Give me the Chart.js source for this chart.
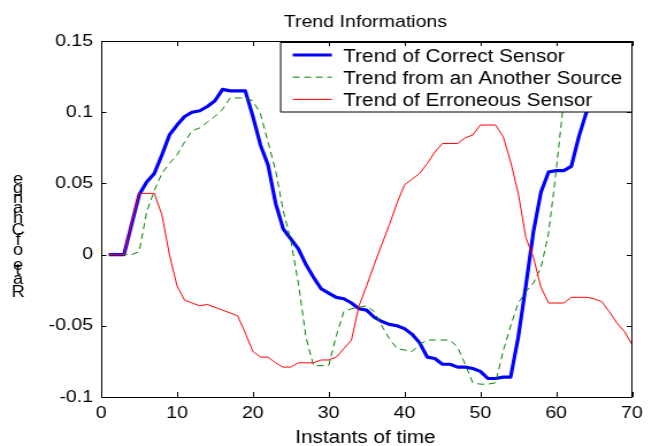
<!DOCTYPE html>
<html>
<head>
<meta charset="utf-8">
<title>Trend Informations</title>
<script src="https://cdn.jsdelivr.net/npm/chart.js@4.4.0/dist/chart.umd.min.js"></script>
<style>
    html, body { margin: 0; padding: 0; background: #fff; overflow: hidden; }
    /* figure is drawn narrow and stretched sideways, like the old exported plot */
    #wrap { width: 565px; height: 446px; transform: scaleX(1.15); transform-origin: 0 0; }
</style>
</head>
<body>
<div id="wrap"><canvas id="trendChart" width="565" height="446"></canvas></div>
<script>
// Sample instants
const instants = [
    1, 2, 3, 4, 5, 6, 7, 8, 9, 10,
    11, 12, 13, 14, 15, 16, 17, 18, 19, 20,
    21, 22, 23, 24, 25, 26, 27, 28, 29, 30,
    31, 32, 33, 34, 35, 36, 37, 38, 39, 40,
    41, 42, 43, 44, 45, 46, 47, 48, 49, 50,
    51, 52, 53, 54, 55, 56, 57, 58, 59, 60,
    61, 62, 63, 64, 65, 66, 67, 68, 69, 70
];

// Rate of change per sensor
const correctSensor = [
    0, 0, 0, 0.021, 0.042, 0.051, 0.057, 0.070, 0.084, 0.091,
    0.097, 0.100, 0.101, 0.104, 0.108, 0.116, 0.115, 0.115, 0.115, 0.097,
    0.077, 0.063, 0.036, 0.018, 0.011, 0.004, -0.007, -0.016, -0.024, -0.027,
    -0.030, -0.031, -0.034, -0.038, -0.039, -0.044, -0.047, -0.049, -0.050, -0.052,
    -0.056, -0.062, -0.072, -0.073, -0.077, -0.077, -0.079, -0.079, -0.080, -0.082,
    -0.087, -0.087, -0.086, -0.086, -0.058, -0.022, 0.016, 0.044, 0.058, 0.059,
    0.059, 0.062, 0.083, 0.100, 0.108, 0.113, 0.117, 0.119, 0.120, 0.121
];

const anotherSource = [
    0, 0, 0, 0, 0.002, 0.030, 0.045, 0.057, 0.064, 0.070,
    0.079, 0.087, 0.089, 0.093, 0.097, 0.102, 0.110, 0.110, 0.110, 0.108,
    0.099, 0.079, 0.059, 0.031, 0.010, -0.020, -0.058, -0.078, -0.078, -0.078,
    -0.057, -0.040, -0.038, -0.037, -0.036, -0.040, -0.050, -0.059, -0.066, -0.067,
    -0.068, -0.063, -0.060, -0.060, -0.060, -0.060, -0.065, -0.077, -0.090, -0.091,
    -0.091, -0.090, -0.068, -0.050, -0.034, -0.026, -0.020, -0.009, 0.015, 0.059,
    0.108, 0.118, 0.125, 0.130, 0.132, 0.133, 0.133, 0.134, 0.134, 0.135
];

const erroneousSensor = [
    0, 0, 0, 0.022, 0.043, 0.043, 0.043, 0.028, 0.000, -0.022,
    -0.032, -0.034, -0.036, -0.035, -0.037, -0.039, -0.041, -0.043, -0.055, -0.068,
    -0.072, -0.072, -0.076, -0.079, -0.079, -0.076, -0.076, -0.076, -0.074, -0.074,
    -0.072, -0.066, -0.060, -0.036, -0.022, -0.007, 0.007, 0.021, 0.036, 0.049,
    0.053, 0.057, 0.064, 0.072, 0.078, 0.078, 0.078, 0.082, 0.084, 0.091,
    0.091, 0.091, 0.083, 0.065, 0.043, 0.012, -0.002, -0.023, -0.034, -0.034,
    -0.034, -0.030, -0.030, -0.030, -0.031, -0.033, -0.040, -0.048, -0.054, -0.063
];

const seriesNames = ['Trend of Correct Sensor', 'Trend from an Another Source', 'Trend of Erroneous Sensor'];

const xTicks = [0, 10, 20, 30, 40, 50, 60, 70];
const xTickLabels = ['0', '10', '20', '30', '40', '50', '60', '70'];
const yTicks = [-0.1, -0.05, 0, 0.05, 0.1, 0.15];
const yTickLabels = ['-0.1', '-0.05', '0', '0.05', '0.1', '0.15'];

const chartTitle = 'Trend Informations';
const xTitle = 'Instants of time';
const yTitle = 'Rate of Change';

const FONT = '"Liberation Sans", Arial, sans-serif';

function toPoints(values) {
    return instants.map((t, i) => ({ x: t, y: values[i] }));
}

// Legend box, inward ticks, frame and titles drawn by hand
const matlabFrame = {
    id: 'matlabFrame',
    afterDatasetsDraw(chart) {
        const ctx = chart.ctx;
        const a = chart.chartArea;
        const xs = chart.scales.x;
        const ys = chart.scales.y;
        ctx.save();

        // legend box in the upper right corner
        const boxL = a.right - 306;
        const boxT = a.top + 1.5;
        const boxH = 69.5;
        ctx.fillStyle = '#fff';
        ctx.fillRect(boxL, boxT, a.right - boxL, boxH);
        ctx.strokeStyle = '#000';
        ctx.lineWidth = 1;
        ctx.strokeRect(boxL + 0.5, boxT, a.right - boxL - 0.5, boxH);

        ctx.font = '18px ' + FONT;
        ctx.textBaseline = 'alphabetic';
        ctx.textAlign = 'left';
        chart.data.datasets.forEach((ds, i) => {
            const rowY = a.top + 14 + i * 22.2;
            ctx.beginPath();
            ctx.strokeStyle = ds.borderColor;
            ctx.lineWidth = ds.borderWidth;
            ctx.setLineDash(ds.borderDash || []);
            ctx.moveTo(boxL + 11, rowY);
            ctx.lineTo(boxL + 45, rowY);
            ctx.stroke();
            ctx.setLineDash([]);
            ctx.fillStyle = '#000';
            ctx.fillText(ds.label, boxL + 55, rowY + 7);
        });

        // inward tick marks on all four sides
        ctx.strokeStyle = '#000';
        ctx.lineWidth = 1;
        ctx.beginPath();
        xTicks.forEach(v => {
            const px = Math.round(xs.getPixelForValue(v)) + 0.5;
            ctx.moveTo(px, a.bottom);
            ctx.lineTo(px, a.bottom - 5);
            ctx.moveTo(px, a.top);
            ctx.lineTo(px, a.top + 5);
        });
        yTicks.forEach(v => {
            const py = Math.round(ys.getPixelForValue(v)) + 0.5;
            ctx.moveTo(a.left, py);
            ctx.lineTo(a.left + 4.5, py);
            ctx.moveTo(a.right, py);
            ctx.lineTo(a.right - 4.5, py);
        });
        ctx.stroke();

        // axes frame
        ctx.strokeRect(Math.round(a.left) + 0.5, Math.round(a.top) + 0.5,
            Math.round(a.right - a.left) - 1, Math.round(a.bottom - a.top));
        ctx.restore();
    },
    afterDraw(chart) {
        const ctx = chart.ctx;
        const a = chart.chartArea;
        const midX = (a.left + a.right) / 2;
        ctx.save();
        ctx.fillStyle = '#000';
        ctx.textAlign = 'center';
        ctx.textBaseline = 'alphabetic';

        ctx.font = '17px ' + FONT;
        ctx.fillText(chartTitle, midX - 1, 27);

        ctx.font = '18px ' + FONT;
        ctx.fillText(xTitle, midX - 1, 443);

        // y label: upright letters stacked from the bottom up
        ctx.font = '16px ' + FONT;
        let baseY = 297;
        for (const ch of yTitle) {
            if (ch !== ' ') ctx.fillText(ch, 15.7, baseY);
            baseY -= ctx.measureText(ch).width * 1.1;
        }
        ctx.restore();
    }
};

const ctx = document.getElementById('trendChart').getContext('2d');

new Chart(ctx, {
    type: 'line',
    data: {
        datasets: [{
            label: seriesNames[0],
            data: toPoints(correctSensor),
            borderColor: '#0000ff',
            borderWidth: 3.2,
            order: 3
        }, {
            label: seriesNames[1],
            data: toPoints(anotherSource),
            borderColor: '#008000',
            borderWidth: 1,
            borderDash: [6, 4],
            order: 2
        }, {
            label: seriesNames[2],
            data: toPoints(erroneousSensor),
            borderColor: '#ff0000',
            borderWidth: 1,
            order: 1
        }]
    },
    options: {
        responsive: false,
        animation: false,
        events: [],
        layout: {
            padding: { top: 41, right: 11, left: 0, bottom: 0 }
        },
        elements: {
            point: { radius: 0 },
            line: { tension: 0, borderJoinStyle: 'round' }
        },
        plugins: {
            legend: { display: false },
            title: { display: false },
            tooltip: { enabled: false }
        },
        scales: {
            x: {
                type: 'linear',
                min: 0,
                max: 70,
                grid: { display: false, drawTicks: false },
                border: { display: false },
                afterBuildTicks: scale => {
                    scale.ticks = xTicks.map(v => ({ value: v }));
                },
                afterFit: scale => { scale.height = 49; },
                ticks: {
                    color: '#000',
                    padding: 6,
                    maxRotation: 0,
                    font: { family: FONT, size: 17 },
                    callback: (value) => xTickLabels[xTicks.indexOf(value)]
                }
            },
            y: {
                min: -0.1,
                max: 0.15,
                grid: { display: false, drawTicks: false },
                border: { display: false },
                afterBuildTicks: scale => {
                    scale.ticks = yTicks.map(v => ({ value: v }));
                },
                afterFit: scale => { scale.width = 88; },
                ticks: {
                    color: '#000',
                    padding: 7,
                    font: { family: FONT, size: 17 },
                    callback: (value) => yTickLabels[yTicks.indexOf(value)]
                }
            }
        }
    },
    plugins: [matlabFrame]
});
</script>
</body>
</html>
